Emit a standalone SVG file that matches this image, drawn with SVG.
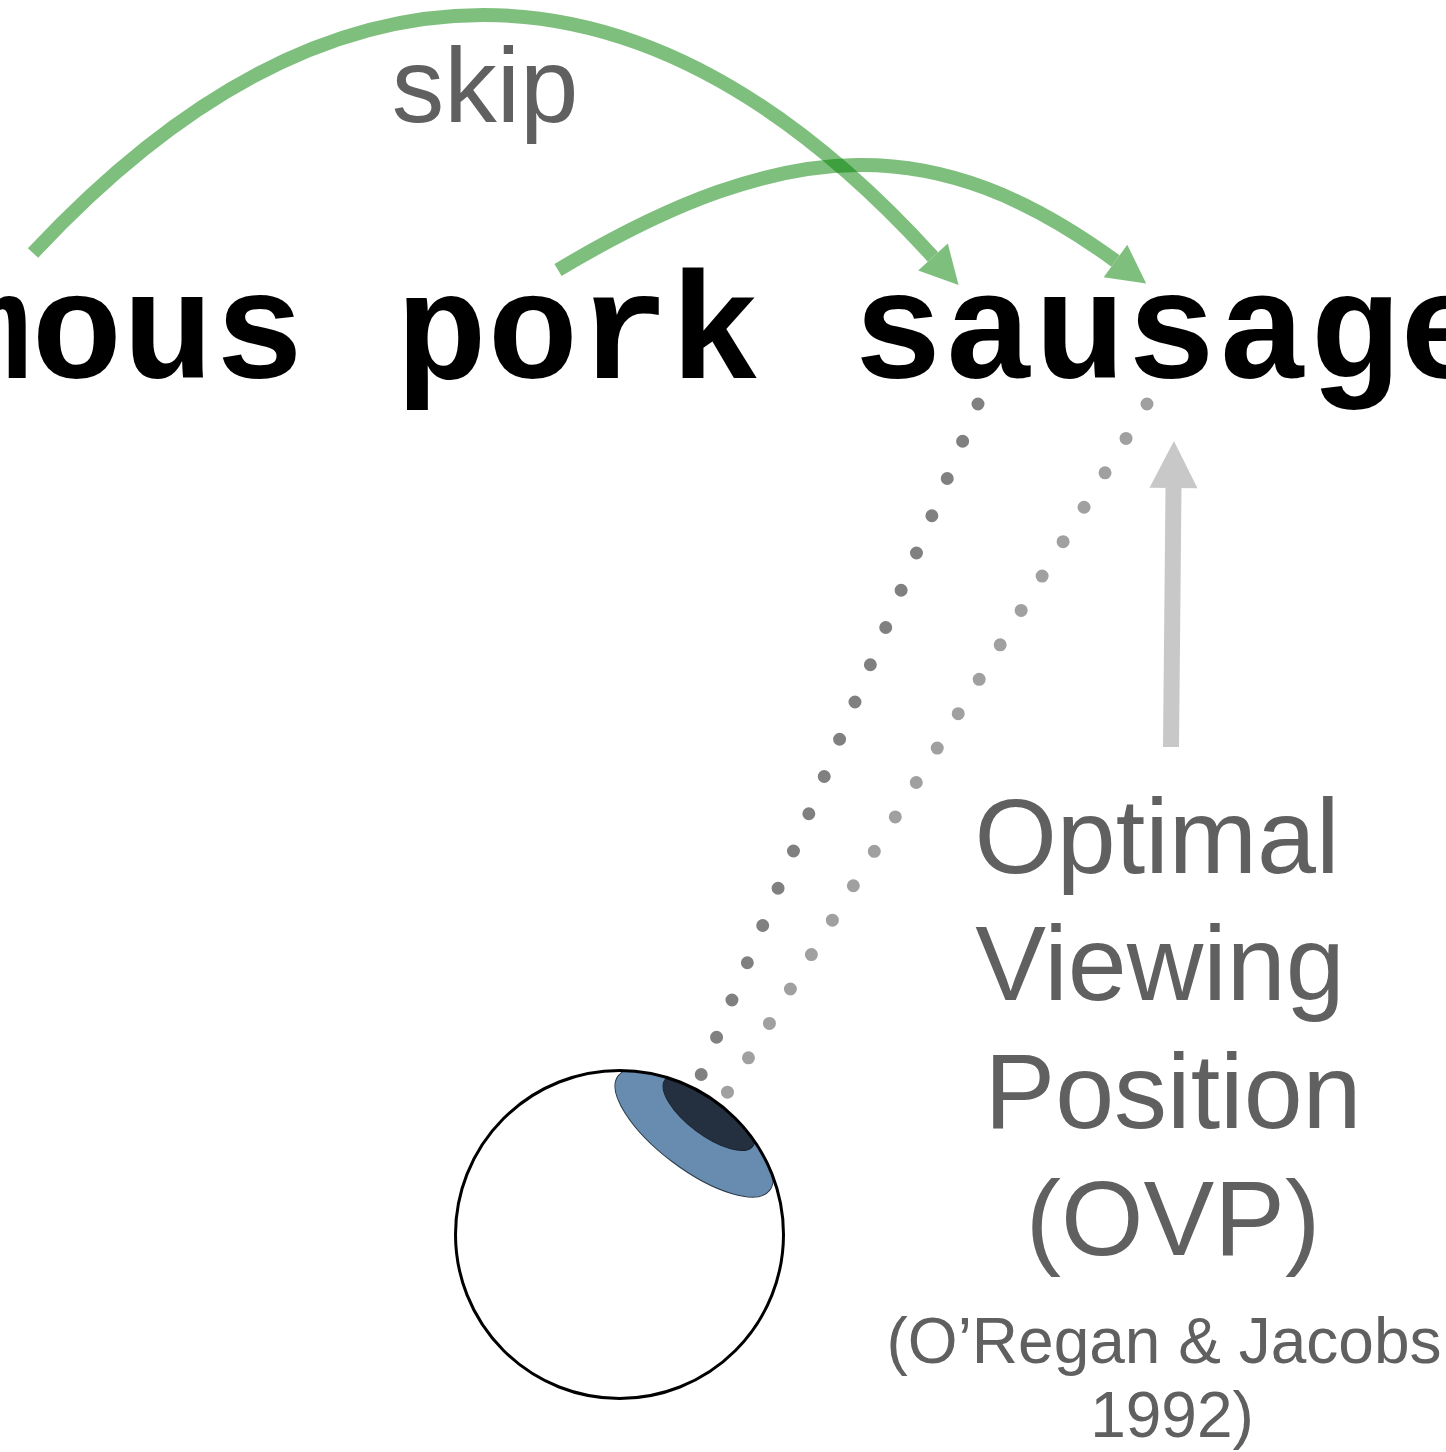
<svg xmlns="http://www.w3.org/2000/svg" width="1446" height="1452" viewBox="0 0 1446 1452">
  <style>
    .word { font-family: "Liberation Mono", "Courier New", monospace; font-weight: bold; font-size: 152px; fill: #000; }
    .label { font-family: "Liberation Sans", Arial, sans-serif; fill: #606060; text-anchor: middle; }
    .big { font-size: 106px; }
    .small { font-size: 64px; }
    .saccade { fill: none; stroke: #008000; stroke-width: 14; }
    .gaze { stroke-width: 13; stroke-linecap: round; stroke-dasharray: 0 40.3; }
  </style>
  <defs>
    <marker id="greenHead" markerUnits="userSpaceOnUse" markerWidth="40" markerHeight="40" refX="0" refY="20" orient="auto" overflow="visible">
      <path d="M0,0 L38,20 L0,40 Z" fill="#008000"/>
    </marker>
    <marker id="grayHead" markerUnits="userSpaceOnUse" markerWidth="48" markerHeight="48" refX="0" refY="24" orient="auto" overflow="visible">
      <path d="M0,0 L47,24 L0,48 Z" fill="#c8c8c8"/>
    </marker>
    <clipPath id="eyeClip">
      <circle cx="619.5" cy="1234.5" r="164"/>
    </clipPath>
  </defs>

  <rect width="1446" height="1452" fill="#fff"/>

  <!-- sentence being read -->
  <g id="sentence">
    <text class="word" x="-60" y="378" xml:space="preserve">mous pork sausage</text>
  </g>

  <!-- saccade arcs, gaze lines and OVP pointer -->
  <g id="connectors">
    <g opacity="0.5">
      <path class="saccade" d="M33,253 C330,-65 640,-65 933,257" marker-end="url(#greenHead)"/>
    </g>
    <g opacity="0.5">
      <path class="saccade" d="M558,270 C790,131.5 938,131.5 1115.5,261" marker-end="url(#greenHead)"/>
    </g>
    <line class="gaze" x1="978" y1="404" x2="701" y2="1075" stroke="#808080"/>
    <line class="gaze" x1="1147" y1="404" x2="727" y2="1093" stroke="#a0a0a0"/>
    <line x1="1171" y1="747" x2="1173.5" y2="488" stroke="#c8c8c8" stroke-width="16" marker-end="url(#grayHead)"/>
  </g>

  <g id="skip-label">
    <text class="label" x="485" y="122" font-size="105">skip</text>
  </g>

  <!-- eyeball -->
  <g id="eye">
    <circle cx="619.5" cy="1234.5" r="164" fill="#fff"/>
    <g clip-path="url(#eyeClip)">
      <ellipse cx="694" cy="1133" rx="95" ry="36" transform="rotate(37 694 1133)" fill="#688cb0" stroke="#2a3a4a" stroke-width="1"/>
      <ellipse cx="709" cy="1113" rx="55" ry="22" transform="rotate(37 709 1113)" fill="#243040" stroke="#1a2430" stroke-width="1"/>
    </g>
    <circle cx="619.5" cy="1234.5" r="164" fill="none" stroke="#000" stroke-width="3"/>
  </g>

  <g id="ovp-label">
    <text class="label big" x="1157" y="873">Optimal</text>
    <text class="label big" x="1160" y="1000">Viewing</text>
    <text class="label big" x="1173" y="1128">Position</text>
    <text class="label big" x="1173" y="1255">(OVP)</text>
    <text class="label small" x="1164" y="1363">(O’Regan &amp; Jacobs</text>
    <text class="label small" x="1172" y="1437">1992)</text>
  </g>
</svg>
